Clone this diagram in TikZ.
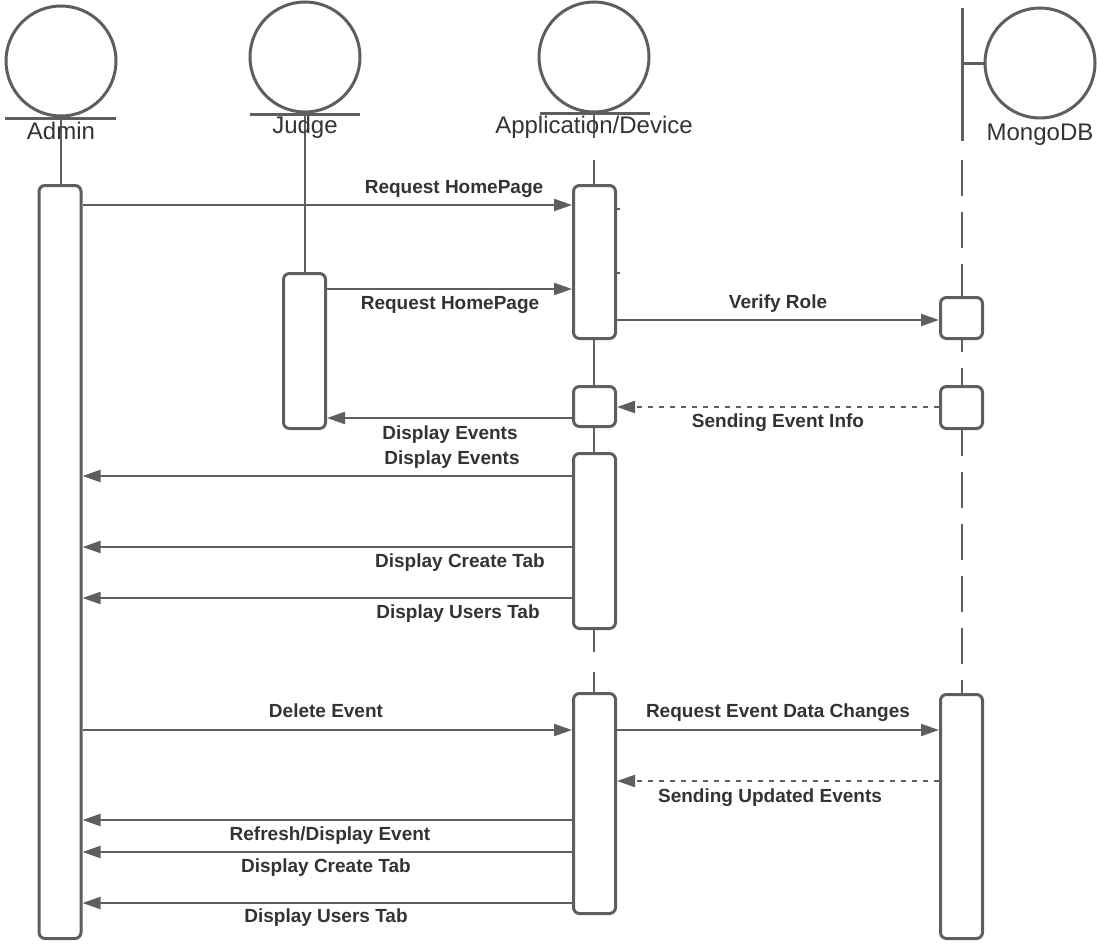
\documentclass[tikz,border=0pt]{standalone}
\usepackage{fontspec}
\setmainfont{Liberation Sans}
\usetikzlibrary{arrows.meta}
\definecolor{lc}{RGB}{94,94,94}
\definecolor{tc}{RGB}{51,51,51}
\begin{document}
\begin{tikzpicture}[x=1pt,y=-1pt,
 act/.style={draw=lc, line width=3pt, fill=white, rounded corners=6pt, minimum width=42pt, inner sep=0pt},
 msg/.style={draw=lc, line width=2.2pt, -{Triangle[length=18pt,width=12pt]}},
 reply/.style={msg, dash pattern=on 5pt off 6pt},
 lbl/.style={font=\fontsize{19}{22}\selectfont\bfseries, text=tc, inner sep=0pt, anchor=base},
 head/.style={font=\fontsize{24}{28}\selectfont, text=tc, inner sep=0pt, anchor=base},
 actor/.style={circle, draw=lc, line width=3pt, minimum size=110pt, inner sep=0pt},
 life/.style={draw=lc, line width=2pt},
 mdash/.style={life, dash pattern=on 36pt off 16pt},
 bar/.style={draw=lc, line width=3pt}]
\useasboundingbox (0,0) rectangle (1097,945);

% ---------- headers ----------
\node[actor] (adminC) at (61,61) {};
\draw[bar] (5,118) -- (116,118);
\node[actor] (judgeC) at (305,57) {};
\draw[bar] (250,114) -- (360,114);
\node[actor] (appC) at (594,57) {};
\draw[bar] (540,113) -- (650,113);
\node[actor] (mongoC) at (1040,63) {};
\draw[bar] (962,8) -- (962,141);
\draw[bar] (962,63) -- (mongoC.west);

% ---------- lifelines ----------
\coordinate (adminTop) at (61,118);
\coordinate (judgeTop) at (305,114);
\draw[life] (adminTop) -- (61,184);
\draw[life] (judgeTop) -- (305,272);
\draw[life] (594,113) -- (594,138);
\draw[life] (594,160) -- (594,184);
\draw[life] (594,340) -- (594,385);
\draw[life] (594,428) -- (594,452);
\draw[life] (594,630) -- (594,652);
\draw[life] (594,672) -- (594,692);
\draw[mdash] (962,160) -- (962,940);

% ---------- header labels ----------
\node[head] (adminL) at (61,139) {Admin};
\node[head] (judgeL) at (305,133) {Judge};
\node[head] (appL) at (594,133) {Application/Device};
\node[head] (mongoL) at (1040,140) {MongoDB};

% ---------- activation boxes ----------
\node[act, minimum height=753pt] (adminAct) at (60,562) {};
\node[act, minimum height=153pt] (app1) at (594.5,262) {};
\node[act, minimum height=155pt] (judgeAct) at (304.5,351) {};
\node[act, minimum height=41pt] (mongo1) at (961.5,318) {};
\node[act, minimum height=40pt] (app2) at (594.5,406.5) {};
\node[act, minimum height=42pt] (mongo2) at (961.5,407.5) {};
\node[act, minimum height=175pt] (app3) at (594.5,541) {};
\node[act, minimum height=220pt] (app4) at (594.5,803.5) {};
\node[act, minimum height=244pt] (mongo3) at (961.5,816.5) {};

% small stubs on first application box
\draw[draw=lc, line width=2pt] (app1.east |- 0,209) -- ++(3,0);
\draw[draw=lc, line width=2pt] (app1.east |- 0,273) -- ++(3,0);

% ---------- message rows ----------
\coordinate (m1) at (0,205);
\coordinate (m2) at (0,289);
\coordinate (m3) at (0,320);
\coordinate (m4) at (0,407);
\coordinate (m5) at (0,418);
\coordinate (m6) at (0,476);
\coordinate (m7) at (0,547);
\coordinate (m8) at (0,598);
\coordinate (m9) at (0,730);
\coordinate (m10) at (0,730);
\coordinate (m11) at (0,781);
\coordinate (m12) at (0,820);
\coordinate (m13) at (0,852);
\coordinate (m14) at (0,903);

\draw[msg] (adminAct.east |- m1) -- (app1.west |- m1);
\draw[msg] (judgeAct.east |- m2) -- (app1.west |- m2);
\draw[msg] (app1.east |- m3) -- (mongo1.west |- m3);
\draw[reply] (mongo2.west |- m4) -- (app2.east |- m4);
\draw[msg] (app2.west |- m5) -- (judgeAct.east |- m5);
\draw[msg] (app3.west |- m6) -- (adminAct.east |- m6);
\draw[msg] (app3.west |- m7) -- (adminAct.east |- m7);
\draw[msg] (app3.west |- m8) -- (adminAct.east |- m8);
\draw[msg] (adminAct.east |- m9) -- (app4.west |- m9);
\draw[msg] (app4.east |- m10) -- (mongo3.west |- m10);
\draw[reply] (mongo3.west |- m11) -- (app4.east |- m11);
\draw[msg] (app4.west |- m12) -- (adminAct.east |- m12);
\draw[msg] (app4.west |- m13) -- (adminAct.east |- m13);
\draw[msg] (app4.west |- m14) -- (adminAct.east |- m14);

% ---------- message labels ----------
\node[lbl] (l1) at (454,193) {Request HomePage};
\node[lbl] (l2) at (450,309) {Request HomePage};
\node[lbl] (l3) at (778,308) {Verify Role};
\node[lbl] (l4) at (778,427) {Sending Event Info};
\node[lbl] (l5) at (450,439) {Display Events};
\node[lbl] (l6) at (452,464) {Display Events};
\node[lbl] (l7) at (460,567) {Display Create Tab};
\node[lbl] (l8) at (458,618) {Display Users Tab};
\node[lbl] (l9) at (326,717) {Delete Event};
\node[lbl] (l10) at (778,717) {Request Event Data Changes};
\node[lbl] (l11) at (770,802) {Sending Updated Events};
\node[lbl] (l12) at (330,840) {Refresh/Display Event};
\node[lbl] (l13) at (326,872) {Display Create Tab};
\node[lbl] (l14) at (326,922) {Display Users Tab};
\end{tikzpicture}
\end{document}
